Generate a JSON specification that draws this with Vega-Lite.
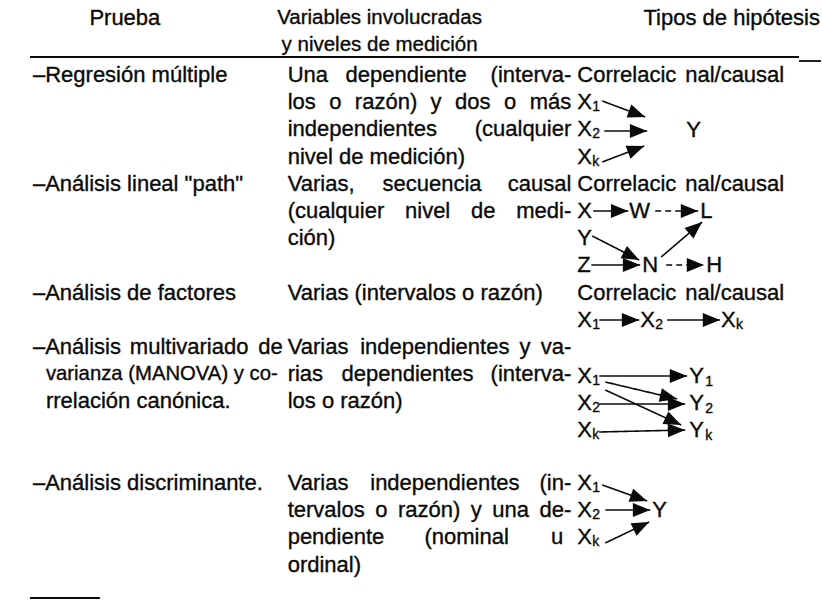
{
  "$schema": "https://vega.github.io/schema/vega-lite/v6.json",
  "width": 822,
  "height": 602,
  "autosize": {"type": "fit", "contains": "padding"},
  "padding": 0,
  "background": "white",
  "config": {
    "view": {"stroke": null},
    "text": {"font": "Liberation Sans", "fontSize": 22, "color": "#0a0a0a", "baseline": "middle", "stroke": "#0a0a0a", "strokeWidth": 0.35}
  },
  "datasets": {
    "textos": [
      {"texto": "Prueba", "x": 125, "y": 18, "anclaje": "centro", "clase": "normal"},
      {"texto": "Variables involucradas", "x": 380, "y": 18, "anclaje": "centro", "clase": "encabezado"},
      {"texto": "y niveles de medición", "x": 380, "y": 45, "anclaje": "centro", "clase": "encabezado"},
      {"texto": "Tipos de hipótesis", "x": 821, "y": 18, "anclaje": "der", "clase": "normal"},

      {"texto": "–Regresión múltiple", "x": 33, "y": 75, "anclaje": "izq", "clase": "normal"},
      {"texto": "–Análisis lineal \"path\"", "x": 33, "y": 184, "anclaje": "izq", "clase": "normal"},
      {"texto": "–Análisis de factores", "x": 33, "y": 293, "anclaje": "izq", "clase": "normal"},
      {"texto": "–Análisis", "x": 33, "y": 347, "anclaje": "izq", "clase": "normal"},
      {"texto": "multivariado", "x": 130, "y": 347, "anclaje": "izq", "clase": "normal"},
      {"texto": "de", "x": 283, "y": 347, "anclaje": "der", "clase": "normal"},
      {"texto": "varianza (MANOVA) y co-", "x": 46, "y": 374, "anclaje": "izq", "clase": "menor"},
      {"texto": "rrelación canónica.", "x": 46, "y": 401, "anclaje": "izq", "clase": "normal"},
      {"texto": "–Análisis discriminante.", "x": 33, "y": 483, "anclaje": "izq", "clase": "normal"},

      {"texto": "Una", "x": 288, "y": 75, "anclaje": "izq", "clase": "normal"},
      {"texto": "dependiente", "x": 346, "y": 75, "anclaje": "izq", "clase": "normal"},
      {"texto": "(interva-", "x": 572, "y": 75, "anclaje": "der", "clase": "normal"},
      {"texto": "los", "x": 288, "y": 102, "anclaje": "izq", "clase": "normal"},
      {"texto": "o", "x": 329.6, "y": 102, "anclaje": "izq", "clase": "normal"},
      {"texto": "razón)", "x": 355.3, "y": 102, "anclaje": "izq", "clase": "normal"},
      {"texto": "y", "x": 431.1, "y": 102, "anclaje": "izq", "clase": "normal"},
      {"texto": "dos", "x": 455.6, "y": 102, "anclaje": "izq", "clase": "normal"},
      {"texto": "o", "x": 504.6, "y": 102, "anclaje": "izq", "clase": "normal"},
      {"texto": "más", "x": 572, "y": 102, "anclaje": "der", "clase": "normal"},
      {"texto": "independientes", "x": 288, "y": 129, "anclaje": "izq", "clase": "normal"},
      {"texto": "(cualquier", "x": 572, "y": 129, "anclaje": "der", "clase": "normal"},
      {"texto": "nivel de medición)", "x": 288, "y": 157, "anclaje": "izq", "clase": "normal"},

      {"texto": "Varias,", "x": 288, "y": 184, "anclaje": "izq", "clase": "normal"},
      {"texto": "secuencia", "x": 383, "y": 184, "anclaje": "izq", "clase": "normal"},
      {"texto": "causal", "x": 572, "y": 184, "anclaje": "der", "clase": "normal"},
      {"texto": "(cualquier", "x": 288, "y": 211, "anclaje": "izq", "clase": "normal"},
      {"texto": "nivel", "x": 405.5, "y": 211, "anclaje": "izq", "clase": "normal"},
      {"texto": "de", "x": 471.6, "y": 211, "anclaje": "izq", "clase": "normal"},
      {"texto": "medi-", "x": 572, "y": 211, "anclaje": "der", "clase": "normal"},
      {"texto": "ción)", "x": 288, "y": 238, "anclaje": "izq", "clase": "normal"},

      {"texto": "Varias (intervalos o razón)", "x": 288, "y": 293, "anclaje": "izq", "clase": "normal"},

      {"texto": "Varias", "x": 288, "y": 347, "anclaje": "izq", "clase": "normal"},
      {"texto": "independientes", "x": 360.6, "y": 347, "anclaje": "izq", "clase": "normal"},
      {"texto": "y", "x": 520.1, "y": 347, "anclaje": "izq", "clase": "normal"},
      {"texto": "va-", "x": 572, "y": 347, "anclaje": "der", "clase": "normal"},
      {"texto": "rias", "x": 288, "y": 374, "anclaje": "izq", "clase": "normal"},
      {"texto": "dependientes", "x": 341.9, "y": 374, "anclaje": "izq", "clase": "normal"},
      {"texto": "(interva-", "x": 572, "y": 374, "anclaje": "der", "clase": "normal"},
      {"texto": "los o razón)", "x": 288, "y": 401, "anclaje": "izq", "clase": "normal"},

      {"texto": "Varias", "x": 288, "y": 483, "anclaje": "izq", "clase": "normal"},
      {"texto": "independientes", "x": 370.7, "y": 483, "anclaje": "izq", "clase": "normal"},
      {"texto": "(in-", "x": 572, "y": 483, "anclaje": "der", "clase": "normal"},
      {"texto": "tervalos", "x": 288, "y": 510, "anclaje": "izq", "clase": "normal"},
      {"texto": "o", "x": 375.6, "y": 510, "anclaje": "izq", "clase": "normal"},
      {"texto": "razón)", "x": 398.4, "y": 510, "anclaje": "izq", "clase": "normal"},
      {"texto": "y", "x": 471.3, "y": 510, "anclaje": "izq", "clase": "normal"},
      {"texto": "una", "x": 492.9, "y": 510, "anclaje": "izq", "clase": "normal"},
      {"texto": "de-", "x": 572, "y": 510, "anclaje": "der", "clase": "normal"},
      {"texto": "pendiente", "x": 288, "y": 537, "anclaje": "izq", "clase": "normal"},
      {"texto": "(nominal", "x": 425, "y": 537, "anclaje": "izq", "clase": "normal"},
      {"texto": "u", "x": 564, "y": 537, "anclaje": "der", "clase": "normal"},
      {"texto": "ordinal)", "x": 288, "y": 565, "anclaje": "izq", "clase": "normal"},

      {"texto": "Correlacic", "x": 578, "y": 75, "anclaje": "izq", "clase": "normal"},
      {"texto": "nal/causal", "x": 686, "y": 75, "anclaje": "izq", "clase": "normal"},
      {"texto": "X", "x": 578, "y": 102, "anclaje": "izq", "clase": "normal"},
      {"texto": "1", "x": 593, "y": 107, "anclaje": "izq", "clase": "sub"},
      {"texto": "X", "x": 578, "y": 129, "anclaje": "izq", "clase": "normal"},
      {"texto": "2", "x": 593, "y": 134, "anclaje": "izq", "clase": "sub"},
      {"texto": "X", "x": 578, "y": 157, "anclaje": "izq", "clase": "normal"},
      {"texto": "k", "x": 593, "y": 162, "anclaje": "izq", "clase": "sub"},
      {"texto": "Y", "x": 687, "y": 130, "anclaje": "izq", "clase": "normal"},

      {"texto": "Correlacic", "x": 578, "y": 184, "anclaje": "izq", "clase": "normal"},
      {"texto": "nal/causal", "x": 686, "y": 184, "anclaje": "izq", "clase": "normal"},
      {"texto": "X", "x": 578, "y": 211, "anclaje": "izq", "clase": "normal"},
      {"texto": "W", "x": 630, "y": 211, "anclaje": "izq", "clase": "normal"},
      {"texto": "L", "x": 701, "y": 211, "anclaje": "izq", "clase": "normal"},
      {"texto": "Y", "x": 578, "y": 238, "anclaje": "izq", "clase": "normal"},
      {"texto": "Z", "x": 578, "y": 265, "anclaje": "izq", "clase": "normal"},
      {"texto": "N", "x": 643, "y": 265, "anclaje": "izq", "clase": "normal"},
      {"texto": "H", "x": 707, "y": 265, "anclaje": "izq", "clase": "normal"},

      {"texto": "Correlacic", "x": 578, "y": 293, "anclaje": "izq", "clase": "normal"},
      {"texto": "nal/causal", "x": 686, "y": 293, "anclaje": "izq", "clase": "normal"},
      {"texto": "X", "x": 578, "y": 320, "anclaje": "izq", "clase": "normal"},
      {"texto": "1", "x": 593, "y": 325, "anclaje": "izq", "clase": "sub"},
      {"texto": "X", "x": 641, "y": 320, "anclaje": "izq", "clase": "normal"},
      {"texto": "2", "x": 656, "y": 325, "anclaje": "izq", "clase": "sub"},
      {"texto": "X", "x": 722, "y": 320, "anclaje": "izq", "clase": "normal"},
      {"texto": "k", "x": 737, "y": 325, "anclaje": "izq", "clase": "sub"},

      {"texto": "X", "x": 578, "y": 376, "anclaje": "izq", "clase": "normal"},
      {"texto": "1", "x": 593, "y": 381, "anclaje": "izq", "clase": "sub"},
      {"texto": "X", "x": 578, "y": 403, "anclaje": "izq", "clase": "normal"},
      {"texto": "2", "x": 593, "y": 408, "anclaje": "izq", "clase": "sub"},
      {"texto": "X", "x": 578, "y": 430, "anclaje": "izq", "clase": "normal"},
      {"texto": "k", "x": 593, "y": 435, "anclaje": "izq", "clase": "sub"},
      {"texto": "Y", "x": 690, "y": 376, "anclaje": "izq", "clase": "normal"},
      {"texto": "1", "x": 706, "y": 382, "anclaje": "izq", "clase": "sub"},
      {"texto": "Y", "x": 690, "y": 403, "anclaje": "izq", "clase": "normal"},
      {"texto": "2", "x": 706, "y": 409, "anclaje": "izq", "clase": "sub"},
      {"texto": "Y", "x": 690, "y": 430, "anclaje": "izq", "clase": "normal"},
      {"texto": "k", "x": 706, "y": 436, "anclaje": "izq", "clase": "sub"},

      {"texto": "X", "x": 578, "y": 483, "anclaje": "izq", "clase": "normal"},
      {"texto": "1", "x": 593, "y": 488, "anclaje": "izq", "clase": "sub"},
      {"texto": "X", "x": 578, "y": 510, "anclaje": "izq", "clase": "normal"},
      {"texto": "2", "x": 593, "y": 515, "anclaje": "izq", "clase": "sub"},
      {"texto": "X", "x": 578, "y": 537, "anclaje": "izq", "clase": "normal"},
      {"texto": "k", "x": 593, "y": 542, "anclaje": "izq", "clase": "sub"},
      {"texto": "Y", "x": 653, "y": 510, "anclaje": "izq", "clase": "normal"}
    ],
    "flechas": [
      {"x": 603, "y": 101, "x2": 646, "y2": 117, "trazo": "continuo"},
      {"x": 605, "y": 131, "x2": 648, "y2": 131, "trazo": "continuo"},
      {"x": 603, "y": 162, "x2": 645, "y2": 146, "trazo": "continuo"},

      {"x": 594, "y": 211, "x2": 629, "y2": 211, "trazo": "continuo"},
      {"x": 656, "y": 211, "x2": 699, "y2": 211, "trazo": "discontinuo"},
      {"x": 593, "y": 236, "x2": 640, "y2": 260, "trazo": "continuo"},
      {"x": 592, "y": 265, "x2": 641, "y2": 265, "trazo": "continuo"},
      {"x": 662, "y": 257, "x2": 703, "y2": 222, "trazo": "continuo"},
      {"x": 667, "y": 265, "x2": 705, "y2": 265, "trazo": "discontinuo"},

      {"x": 600, "y": 320, "x2": 640, "y2": 320, "trazo": "continuo"},
      {"x": 668, "y": 320, "x2": 721, "y2": 320, "trazo": "continuo"},

      {"x": 600, "y": 376, "x2": 688, "y2": 376, "trazo": "continuo"},
      {"x": 606, "y": 382, "x2": 678, "y2": 399, "trazo": "continuo"},
      {"x": 606, "y": 390, "x2": 682, "y2": 425, "trazo": "continuo"},
      {"x": 600, "y": 404, "x2": 686, "y2": 404, "trazo": "continuo"},
      {"x": 600, "y": 432, "x2": 686, "y2": 430, "trazo": "continuo"},

      {"x": 603, "y": 485, "x2": 648, "y2": 501, "trazo": "continuo"},
      {"x": 606, "y": 510, "x2": 651, "y2": 510, "trazo": "continuo"},
      {"x": 606, "y": 543, "x2": 650, "y2": 522, "trazo": "continuo"}
    ],
    "lineas": [
      {"x": 30, "y": 57, "x2": 800, "y2": 57},
      {"x": 800, "y": 61, "x2": 822, "y2": 61},
      {"x": 30, "y": 598, "x2": 100, "y2": 598}
    ]
  },
  "layer": [
    {
      "data": {"name": "lineas"},
      "mark": {"type": "rule", "color": "#0a0a0a", "strokeWidth": 1.8},
      "encoding": {
        "x": {"field": "x", "type": "quantitative", "scale": {"domain": [0, 822], "nice": false, "zero": false}, "axis": null},
        "y": {"field": "y", "type": "quantitative", "scale": {"domain": [0, 602], "nice": false, "zero": false, "reverse": true}, "axis": null},
        "x2": {"field": "x2"},
        "y2": {"field": "y2"}
      }
    },
    {
      "data": {"name": "flechas"},
      "transform": [{"calculate": "atan2(datum.y2 - datum.y, datum.x2 - datum.x) * 180 / PI", "as": "angulo"}],
      "layer": [
        {
          "mark": {"type": "rule", "color": "#0a0a0a", "strokeWidth": 1.6},
          "encoding": {
            "x": {"field": "x", "type": "quantitative", "axis": null},
            "y": {"field": "y", "type": "quantitative", "axis": null},
            "x2": {"field": "x2"},
            "y2": {"field": "y2"},
            "strokeDash": {"field": "trazo", "type": "nominal", "scale": {"domain": ["continuo", "discontinuo"], "range": [[1, 0], [6, 4]]}, "legend": null}
          }
        },
        {
          "mark": {"type": "point", "shape": "M0,0L-2,-0.8L-2,0.8Z", "filled": true, "color": "#0a0a0a", "opacity": 1, "size": 300, "strokeWidth": 0},
          "encoding": {
            "x": {"field": "x2", "type": "quantitative", "axis": null},
            "y": {"field": "y2", "type": "quantitative", "axis": null},
            "angle": {"field": "angulo", "type": "quantitative", "scale": null}
          }
        }
      ]
    },
    {
      "data": {"name": "textos"},
      "transform": [{"filter": "datum.anclaje == 'izq' && datum.clase == 'normal'"}],
      "mark": {"type": "text", "align": "left"},
      "encoding": {
        "x": {"field": "x", "type": "quantitative", "axis": null},
        "y": {"field": "y", "type": "quantitative", "axis": null},
        "text": {"field": "texto"}
      }
    },
    {
      "data": {"name": "textos"},
      "transform": [{"filter": "datum.anclaje == 'der' && datum.clase == 'normal'"}],
      "mark": {"type": "text", "align": "right"},
      "encoding": {
        "x": {"field": "x", "type": "quantitative", "axis": null},
        "y": {"field": "y", "type": "quantitative", "axis": null},
        "text": {"field": "texto"}
      }
    },
    {
      "data": {"name": "textos"},
      "transform": [{"filter": "datum.anclaje == 'centro' && datum.clase == 'normal'"}],
      "mark": {"type": "text", "align": "center"},
      "encoding": {
        "x": {"field": "x", "type": "quantitative", "axis": null},
        "y": {"field": "y", "type": "quantitative", "axis": null},
        "text": {"field": "texto"}
      }
    },
    {
      "data": {"name": "textos"},
      "transform": [{"filter": "datum.clase == 'encabezado'"}],
      "mark": {"type": "text", "align": "center", "fontSize": 20.5},
      "encoding": {
        "x": {"field": "x", "type": "quantitative", "axis": null},
        "y": {"field": "y", "type": "quantitative", "axis": null},
        "text": {"field": "texto"}
      }
    },
    {
      "data": {"name": "textos"},
      "transform": [{"filter": "datum.clase == 'menor'"}],
      "mark": {"type": "text", "align": "left", "fontSize": 20.3},
      "encoding": {
        "x": {"field": "x", "type": "quantitative", "axis": null},
        "y": {"field": "y", "type": "quantitative", "axis": null},
        "text": {"field": "texto"}
      }
    },
    {
      "data": {"name": "textos"},
      "transform": [{"filter": "datum.clase == 'sub'"}],
      "mark": {"type": "text", "align": "left", "fontSize": 14},
      "encoding": {
        "x": {"field": "x", "type": "quantitative", "axis": null},
        "y": {"field": "y", "type": "quantitative", "axis": null},
        "text": {"field": "texto"}
      }
    }
  ]
}
